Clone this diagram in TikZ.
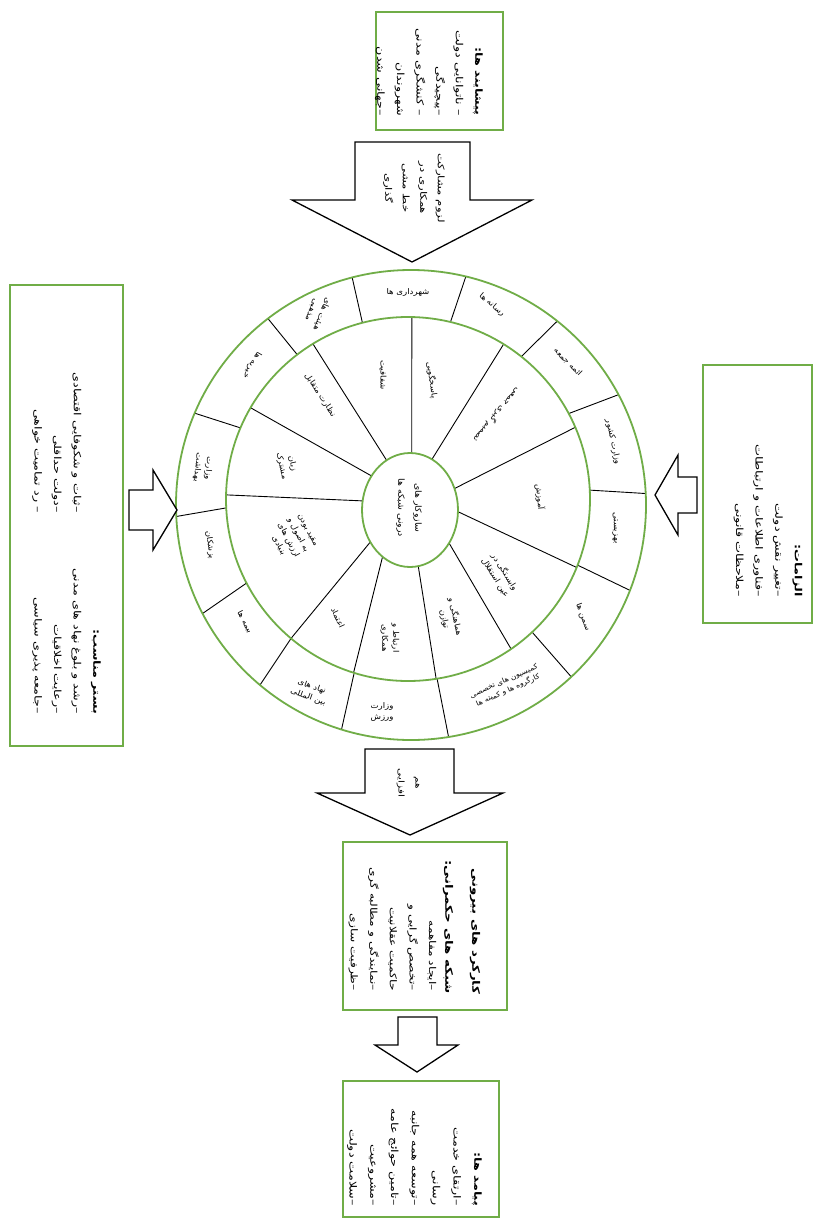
\documentclass[tikz,border=0pt]{standalone}
\usepackage{fontspec}
\usepackage{graphicx}
\usetikzlibrary{shapes.geometric}
\TeXXeTstate=1
\newfontfamily\fa[Script=Arabic, FakeStretch=1.3]{DejaVu Sans}
\newfontfamily\fb[Script=Arabic, FakeStretch=1.1]{DejaVu Sans}
\newcommand\rl[1]{\beginR #1\endR}
\definecolor{boxgreen}{RGB}{112,173,71}
\tikzset{
  gbox/.style={draw=boxgreen, line width=1.8pt, inner sep=0pt},
  ringc/.style={draw=boxgreen, line width=1.8pt, inner sep=0pt},
  blk/.style={draw=black, line width=1.3pt, fill=white, line join=miter},
  divl/.style={draw=black, line width=0.9pt},
  txt/.style={font=\fa\fontsize{9.8}{19.6}\selectfont, align=right, rotate=-90, inner sep=0pt},
  lbl/.style={font=\fb\fontsize{7.8}{11}\selectfont, align=center, inner sep=0pt},
}
\begin{document}
\begin{tikzpicture}[x=1pt,y=-1pt]
\useasboundingbox (0,0) rectangle (816,1223);
\fill[white] (0,0) rectangle (816,1223);

% dividers outer ring
\foreach \t in {-104.5,-76.5,-51.5,-28,-2.8,21.3,47,80.8,107.2,130,152.5,177.2,-157,-127.5}
  \draw[divl] ({408+182*cos(\t)},{499+182*sin(\t)}) -- ({411+235*cos(\t)},{505+235*sin(\t)});
% dividers inner ring
\foreach \p/\t in {-87.9/-88.8,-62.8/-58.3,-22.1/-23.2,1.7/22.1,35.5/55.5,80.1/81.1,124.9/107.4,145.8/130.0,189.2/181.3,-143.3/-149.9,-119.2/-121.5}
  \draw[divl] ({410+48*cos(\p)},{510+57*sin(\p)}) -- ({408+182*cos(\t)},{499+182*sin(\t)});

% rings
\node[circle, ringc, minimum size=470pt] (outerring) at (411,505) {};
\node[circle, ringc, minimum size=364pt] (midring) at (408,499) {};
\node[ellipse, ringc, minimum width=96pt, minimum height=114pt] (core) at (410,510) {};
\node[lbl, rotate=-90, font=\fb\fontsize{8.5}{17}\selectfont] (coretxt) at (409,508) {\rl{سازوکار های}\\\rl{درونی شبکه ها}};

% outer ring labels
\node[lbl, rotate=0] (o1) at (408,292) {\rl{شهرداری ها}};
\node[lbl, rotate=-40] (o2) at (492,305) {\rl{رسانه ها}};
\node[lbl, rotate=-45] (o3) at (568,362) {\rl{ائمه جمعه}};
\node[lbl, rotate=-78] (o4) at (613,442) {\rl{وزارت کشور}};
\node[lbl, rotate=-88] (o5) at (615,528) {\rl{بهزیستی}};
\node[lbl, rotate=-70] (o6) at (583,617) {\rl{سمن ها}};
\node[lbl, rotate=24, font=\fb\fontsize{7}{10}\selectfont] (o7) at (506,686) {\rl{کمیسیون های تخصصی}\\\rl{کارگروه ها و کمیته ها}};
\node[lbl, rotate=0] (o8) at (382,712) {\rl{وزارت}\\\rl{ورزش}};
\node[lbl, rotate=-20] (o9) at (310,692) {\rl{نهاد های}\\\rl{بین المللی}};
\node[lbl, rotate=-62] (o10) at (245,622) {\rl{بیمه ها}};
\node[lbl, rotate=-82] (o11) at (210,545) {\rl{پزشکان}};
\node[lbl, rotate=-95] (o12) at (203,468) {\rl{وزارت}\\\rl{بهداشت}};
\node[lbl, rotate=-120] (o13) at (252,365) {\rl{خیریه ها}};
\node[lbl, rotate=-112] (o14) at (317,312) {\rl{هیئت های}\\\rl{مذهبی}};

% inner ring labels
\node[lbl, rotate=-82] (i1) at (432,380) {\rl{پاسخگویی}};
\node[lbl, rotate=-130] (i2) at (497,415) {\rl{تصمیم گیری جمعی}};
\node[lbl, rotate=-85] (i3) at (540,497) {\rl{آموزش}};
\node[lbl, rotate=-58] (i4) at (500,575) {\rl{وابستگی در}\\\rl{عین استقلال}};
\node[lbl, rotate=-78] (i5) at (450,618) {\rl{هماهنگی و}\\\rl{توازن}};
\node[lbl, rotate=-90] (i6) at (390,638) {\rl{ارتباط و}\\\rl{همکاری}};
\node[lbl, rotate=-65] (i7) at (338,618) {\rl{اعتماد}};
\node[lbl, rotate=-62] (i8) at (293,538) {\rl{مقید بودن}\\\rl{به اصول و}\\\rl{ارزش های}\\\rl{بنیادی}};
\node[lbl, rotate=-78] (i9) at (287,465) {\rl{زبان}\\\rl{مشترک}};
\node[lbl, rotate=-57] (i10) at (320,395) {\rl{نظارت متقابل}};
\node[lbl, rotate=-90] (i11) at (383,375) {\rl{شفافیت}};

% boxes
\node[gbox, minimum width=127pt, minimum height=118pt] (pre) at (439.5,71) {};
\node[gbox, minimum width=109pt, minimum height=258pt] (req) at (757.5,494) {};
\node[gbox, minimum width=113pt, minimum height=461pt] (ctx) at (66.5,515.5) {};
\node[gbox, minimum width=164pt, minimum height=168pt] (fn) at (425,926) {};
\node[gbox, minimum width=156pt, minimum height=136pt] (out) at (421,1149) {};

% box texts
\node[txt, anchor=east] (pretxt) at (429,116) {\textbf{\rl{پیشایند ها:}}\\\rl{– ناتوانایی دولت}\\\rl{–پیچیدگی}\\\rl{– کنشگری مدنی}\\\rl{شهروندان}\\\rl{–جهانی شدن}};
\node[txt, anchor=east] (reqtxt) at (768,597) {\textbf{\rl{الزامات:}}\\\rl{–تغییر نقش دولت}\\\rl{–فناوری اطلاعات و ارتباطات}\\\rl{–ملاحظات قانونی}};
\node[txt, anchor=east] (ctxa) at (66.5,714) {\textbf{\rl{بستر مناسب:}}\\\rl{–رشد و بلوغ نهاد های مدنی}\\\rl{–رعایت اخلاقیات}\\\rl{–جامعه پذیری سیاسی}};
\node[txt, anchor=east] (ctxb) at (56.7,513) {\rl{–ثبات و شکوفایی اقتصادی}\\\rl{–دولت حداقلی}\\\rl{– رد تمامیت خواهی}};
\node[txt, anchor=east, font=\fa\bfseries\fontsize{10.3}{27}\selectfont] (fntitle) at (461.5,994) {\rl{کارکرد های بیرونی}\\\rl{شبکه های حکمرانی:}};
\node[txt, anchor=east, font=\fa\fontsize{9.4}{19.6}\selectfont] (fnbody) at (392.4,991) {\rl{–ایجاد مفاهمه}\\\rl{–تخصص گرایی و}\\\rl{حاکمیت عقلانیت}\\\rl{–نمایندگی و مطالبه گری}\\\rl{–ظرفیت سازی}};
\node[txt, anchor=east, font=\fa\fontsize{9.8}{20.8}\selectfont] (outtxt) at (414.5,1206) {\textbf{\rl{پیامد ها:}}\\\rl{–ارتقای خدمت}\\\rl{رسانی}\\\rl{–توسعه همه جانبه}\\\rl{–تامین حوائج عامه}\\\rl{–مشروعیت}\\\rl{–سلامت دولت}};

% block arrows
\draw[blk] (355,142) -- (470,142) -- (470,200) -- (532,200) -- (412,262) -- (292,200) -- (355,200) -- cycle;
\node[lbl, rotate=-90, font=\fa\fontsize{9}{17.5}\selectfont] (toparr) at (414,188) {\rl{لزوم مشارکت}\\\rl{همکاری در}\\\rl{خط مشی}\\\rl{گذاری}};
\draw[blk] (697,477) -- (697,513) -- (678,513) -- (678,535) -- (655,495) -- (678,455) -- (678,477) -- cycle;
\draw[blk] (129,490) -- (153,490) -- (153,470) -- (177,510) -- (153,550) -- (153,530) -- (129,530) -- cycle;
\draw[blk] (365,749) -- (454,749) -- (454,793) -- (503,793) -- (410,835) -- (317,793) -- (365,793) -- cycle;
\node[lbl, rotate=-90, font=\fa\fontsize{8}{17}\selectfont] (botarr) at (408,783) {\rl{هم}\\\rl{افزایی}};
\draw[blk] (398,1017) -- (437,1017) -- (437,1045) -- (458,1045) -- (417,1072) -- (375,1045) -- (398,1045) -- cycle;
\end{tikzpicture}
\end{document}
